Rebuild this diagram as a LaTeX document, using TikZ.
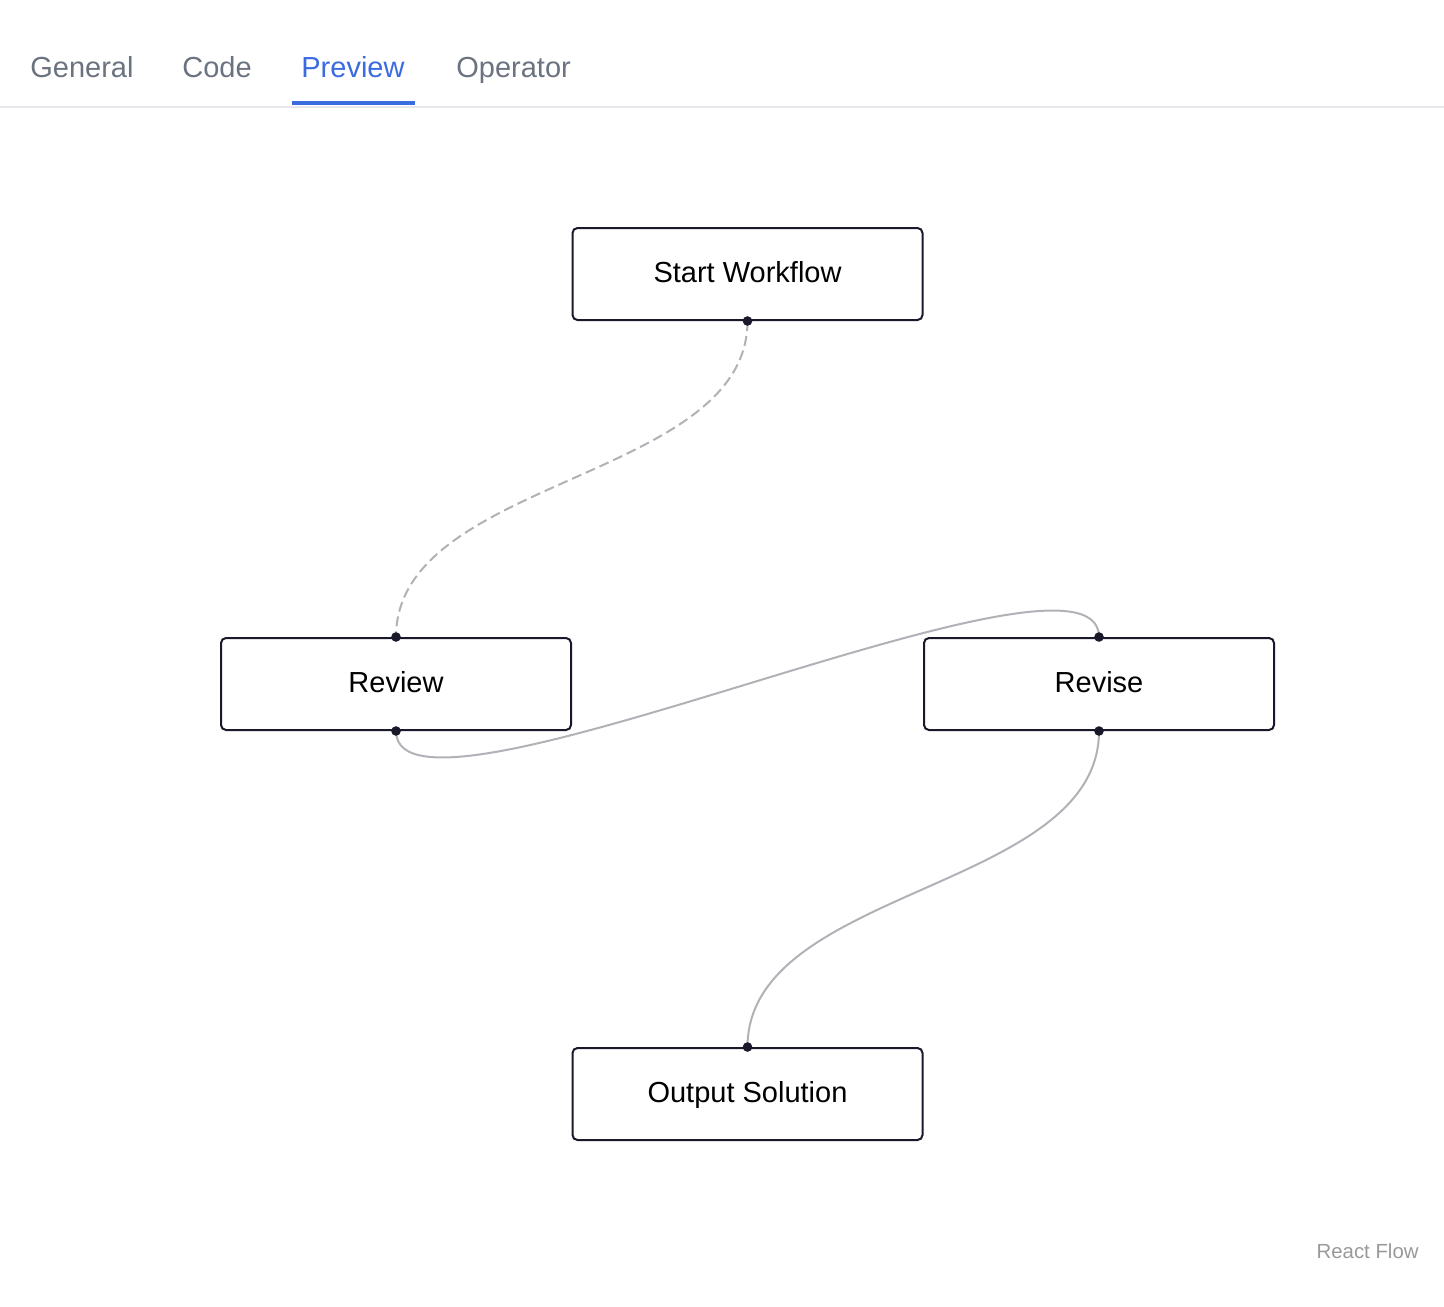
\documentclass[tikz,border=0pt]{standalone}
\usepackage{fontspec}
\setmainfont{Liberation Sans}
\usetikzlibrary{calc}

\definecolor{tabgray}{HTML}{6B7280}
\definecolor{tabblue}{HTML}{3B6BE0}
\definecolor{rulegray}{HTML}{E5E7EB}
\definecolor{nodeink}{HTML}{1A192B}
\definecolor{edgegray}{HTML}{B1B1B7}

\begin{document}
\begin{tikzpicture}[x=0.5pt, y=-0.5pt,
    flowbox/.style={draw=nodeink, line width=1pt, rounded corners=2.5pt, fill=white,
      minimum width=175pt, minimum height=46pt, inner sep=0pt,
      text height=0.85em, text depth=0pt, font=\fontsize{14.5}{17}\selectfont},
    tab/.style={anchor=base west, inner sep=0pt, text=tabgray, font=\fontsize{14.5}{17}\selectfont},
    edge/.style={draw=edgegray, line width=1pt},
    handle/.style={fill=nodeink}]
  \useasboundingbox (0,0) rectangle (1444,1306);

  % tab bar
  \draw[rulegray, line width=1pt] (0,106.5) -- (1444,106.5);
  \node[tab] (general) at (30,77) {General};
  \node[tab] (code) at (182,77) {Code};
  \node[tab, text=tabblue] (preview) at (301,77) {Preview};
  \node[tab] (operator) at (456,77) {Operator};
  \fill[tabblue] (292,101) rectangle (415,105);

  % flow nodes
  \node[flowbox] (start) at (747.5,274) {Start Workflow};
  \node[flowbox] (review) at (396,684) {Review};
  \node[flowbox] (revise) at (1099,684) {Revise};
  \node[flowbox] (output) at (747.5,1094) {Output Solution};

  % edges
  \draw[edge, dash pattern=on 5pt off 2.5pt] (start.south) .. controls +(0,159.5) and +(0,-159.5) .. (review.north);
  \draw[edge] (review.south) .. controls +(0,120) and +(0,-120) .. (revise.north);
  \draw[edge] (revise.south) .. controls +(0,160) and +(0,-160) .. (output.north);

  % handles
  \foreach \n in {start.south, review.north, review.south, revise.north, revise.south, output.north}
    \fill[handle] (\n) circle (2.4pt);

  \node[anchor=base east, inner sep=0pt, text=gray!80, font=\fontsize{10.2}{12}\selectfont] (credit) at (1419,1258) {React Flow};
\end{tikzpicture}
\end{document}
